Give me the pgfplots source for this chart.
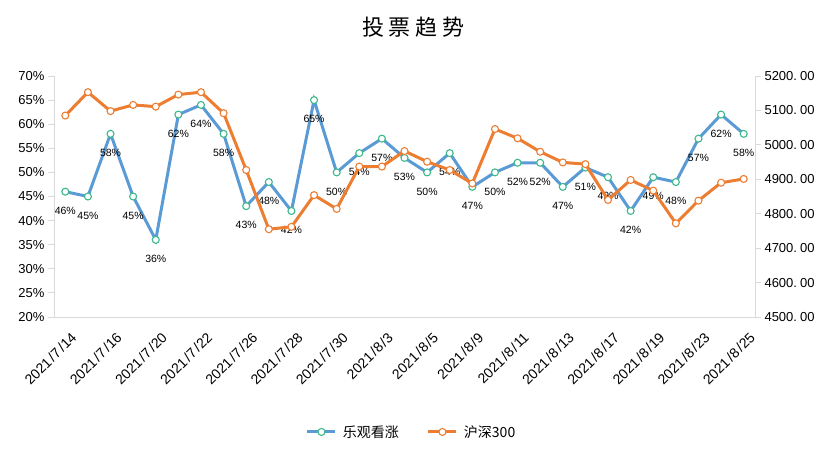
\documentclass[border=0pt]{standalone}
\usepackage{fontspec}
\setmainfont{Liberation Sans}
\newfontfamily\cjk{Noto Sans CJK SC}
\usepackage{pgfplots}
\usepackage{pgfplotstable}
\pgfplotsset{compat=1.18}

\definecolor{lineblue}{RGB}{91,155,213}
\definecolor{mkgreen}{RGB}{60,185,140}
\definecolor{lineorange}{RGB}{237,125,49}
\definecolor{axgray}{RGB}{217,217,217}

% 乐观看涨 (%), one row per trading day
\pgfplotstableread{
idx pct
0 46
1 45
2 58
3 45
4 36
5 62
6 64
7 58
8 43
9 48
10 42
11 65
12 50
13 54
14 57
15 53
16 50
17 54
18 47
19 50
20 52
21 52
22 47
23 51
24 49
25 42
26 49
27 48
28 57
29 62
30 58
}\bulls

% 沪深300
\pgfplotstableread{
idx hs
0 5085
1 5153
2 5098
3 5116
4 5111
5 5146
6 5153
7 5092
8 4927
9 4755
10 4762
11 4854
12 4814
13 4937
14 4937
15 4982
16 4951
17 4927
18 4888
19 5046
20 5019
21 4980
22 4949
23 4944
24 4840
25 4898
26 4867
27 4772
28 4838
29 4890
30 4901
}\hsindex

\newcommand{\dt}[2]{2021\hspace{1.5pt}/\hspace{0.5pt}#1\hspace{1.5pt}/\hspace{0.5pt}#2}

\pgfplotsset{
  base/.style={
    scale only axis, width=701pt, height=241pt,
    at={(54pt,156pt)}, anchor=south west,
    xmin=-0.5, xmax=30.5,
    /pgf/number format/assume math mode=true,
    tick label style={font=\fontsize{13}{15}\selectfont},
    axis line style={axgray, line width=0.8pt},
    major tick style={axgray, line width=0.8pt},
    tick align=outside, major tick length=6pt,
  },
}

\begin{document}
\begin{tikzpicture}[x=1pt,y=1pt]
\path[use as bounding box] (0,0) rectangle (827,473);
\node[font=\cjk\fontsize{22}{26}\selectfont] at (413.5,446)
  {投\hspace{5pt}票\hspace{5pt}趋\hspace{5pt}势};

\begin{axis}[base,
    axis y line*=left, axis x line*=bottom,
    ymin=20, ymax=70, ytick={20,25,...,70},
    yticklabel={\pgfmathprintnumber{\tick}\%},
    xtick={0,2,...,30},
    xticklabels={\dt{7}{14},\dt{7}{16},\dt{7}{20},\dt{7}{22},\dt{7}{26},\dt{7}{28},\dt{7}{30},\dt{8}{3},
                 \dt{8}{5},\dt{8}{9},\dt{8}{11},\dt{8}{13},\dt{8}{17},\dt{8}{19},\dt{8}{23},\dt{8}{25}},
    xticklabel style={rotate=45, anchor=north east, font=\fontsize{14}{16}\selectfont,
        xshift=1pt, yshift=-6pt},
    x tick style={draw=none},
]
\addplot[lineblue, line width=3pt,
    mark=*, mark size=3.5pt,
    mark options={fill=white, draw=mkgreen, line width=1.1pt},
    nodes near coords={\pgfmathprintnumber{\pgfplotspointmeta}\%},
    point meta=explicit,
    every node near coord/.append style={anchor=center, yshift=-19pt,
        font=\fontsize{10.5}{12}\selectfont, text=black},
  ] table[x=idx, y=pct, meta=pct] {\bulls};
\end{axis}

\begin{axis}[base,
    axis x line=none, axis y line*=right,
    ymin=4500, ymax=5200, ytick={4500,4600,...,5200},
    yticklabel style={/pgf/number format/.cd, fixed, fixed zerofill, precision=2,
        1000 sep={}, dec sep={.\hspace{3pt}}},
    legend columns=2,
    legend style={draw=none, fill=none, at={(0.513,-0.477)}, anchor=center,
        font=\cjk\fontsize{14}{16}\selectfont,
        /tikz/every even column/.append style={column sep=22pt},
        nodes={inner xsep=6pt}},
    legend image code/.code={
        \draw[#1, mark repeat=2, mark phase=2] plot coordinates {(0pt,0pt) (14pt,0pt) (28pt,0pt)};},
]
\addlegendimage{lineblue, line width=3pt, mark=*, mark size=3.5pt,
    mark options={fill=white, draw=mkgreen, line width=1.1pt}}
\addlegendentry{乐观看涨}
\addplot[lineorange, line width=3pt,
    mark=*, mark size=3.5pt,
    mark options={fill=white, draw=lineorange, line width=1.1pt},
  ] table[x=idx, y=hs] {\hsindex};
\addlegendentry{沪深300}
\end{axis}
\end{tikzpicture}
\end{document}
